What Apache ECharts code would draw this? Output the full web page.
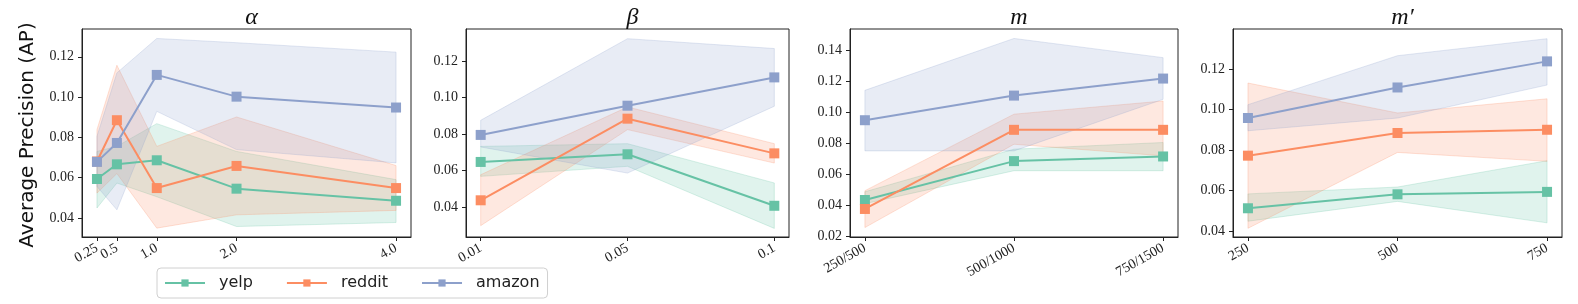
<!DOCTYPE html>
<html><head><meta charset="utf-8">
<script src="https://cdn.jsdelivr.net/npm/echarts@6/dist/echarts.min.js"></script>
<style>html,body{margin:0;padding:0;background:#fff}#c{width:1578px;height:304px}</style>
</head><body><div id="c"></div>
<script>
const seriesNames = ['yelp', 'reddit', 'amazon'];
const panelTitles = ['\u03b1', '\u03b2', 'm', 'm\u2032'];

// Panel alpha (numeric x)
const alphaX = [0.25, 0.5, 1.0, 2.0, 4.0];
const alphaLabels = ['0.25', '0.5', '1.0', '2.0', '4.0'];
const alphaYelp = [0.0593, 0.0666, 0.0686, 0.0545, 0.0485];
const alphaYelpLo = [0.0449, 0.0573, 0.0505, 0.0357, 0.0377];
const alphaYelpHi = [0.0730, 0.0755, 0.0868, 0.0730, 0.0590];
const alphaReddit = [0.0680, 0.0885, 0.0548, 0.0658, 0.0548];
const alphaRedditLo = [0.0523, 0.0620, 0.0349, 0.0415, 0.0437];
const alphaRedditHi = [0.0838, 0.1158, 0.0755, 0.0901, 0.0660];
const alphaAmazon = [0.0678, 0.0772, 0.1110, 0.1002, 0.0948];
const alphaAmazonLo = [0.0556, 0.0440, 0.0929, 0.0739, 0.0673];
const alphaAmazonHi = [0.0805, 0.1120, 0.1291, 0.1270, 0.1223];

// Panel beta
const betaLabels = ['0.01', '0.05', '0.1'];
const betaYelp = [0.0647, 0.0689, 0.0407];
const betaYelpLo = [0.0568, 0.0623, 0.0283];
const betaYelpHi = [0.0732, 0.0747, 0.0532];
const betaReddit = [0.0437, 0.0884, 0.0694];
const betaRedditLo = [0.0298, 0.0824, 0.0641];
const betaRedditHi = [0.0577, 0.0948, 0.0747];
const betaAmazon = [0.0795, 0.0955, 0.1110];
const betaAmazonLo = [0.0729, 0.0586, 0.0952];
const betaAmazonHi = [0.0875, 0.1322, 0.1268];

// Panel m
const mLabels = ['250/500', '500/1000', '750/1500'];
const mYelp = [0.0434, 0.0685, 0.0715];
const mYelpLo = [0.0410, 0.0623, 0.0623];
const mYelpHi = [0.0487, 0.0762, 0.0805];
const mReddit = [0.0376, 0.0887, 0.0887];
const mRedditLo = [0.0256, 0.0794, 0.0719];
const mRedditHi = [0.0494, 0.0988, 0.1073];
const mAmazon = [0.0949, 0.1108, 0.1218];
const mAmazonLo = [0.0751, 0.0751, 0.1084];
const mAmazonHi = [0.1142, 0.1477, 0.1353];

// Panel m'
const mpLabels = ['250', '500', '750'];
const mpYelp = [0.0512, 0.0581, 0.0593];
const mpYelpLo = [0.0448, 0.0546, 0.0440];
const mpYelpHi = [0.0583, 0.0617, 0.0747];
const mpReddit = [0.0772, 0.0884, 0.0900];
const mpRedditLo = [0.0413, 0.0788, 0.0744];
const mpRedditHi = [0.1131, 0.0983, 0.1053];
const mpAmazon = [0.0958, 0.1109, 0.1238];
const mpAmazonLo = [0.0895, 0.0958, 0.1121];
const mpAmazonHi = [0.1024, 0.1266, 0.1350];

// y ticks per panel
const yTicksA = [0.04, 0.06, 0.08, 0.10, 0.12];
const yTicksB = [0.04, 0.06, 0.08, 0.10, 0.12];
const yTicksM = [0.02, 0.04, 0.06, 0.08, 0.10, 0.12, 0.14];
const yTicksMp = [0.04, 0.06, 0.08, 0.10, 0.12];

// ---------- build ----------
const colors = ['#66c2a5', '#fc8d62', '#8da0cb'];
const rgba = (hex, a) => {
  const n = parseInt(hex.slice(1), 16);
  return `rgba(${(n >> 16) & 255},${(n >> 8) & 255},${n & 255},${a})`;
};
const idx3 = [0, 1, 2];
const panels = [
  { x: alphaX, labels: alphaLabels, xmin: 0.0625, xmax: 4.1875, ymin: 0.0305, ymax: 0.1338, yticks: yTicksA,
    mean: [alphaYelp, alphaReddit, alphaAmazon], lo: [alphaYelpLo, alphaRedditLo, alphaAmazonLo], hi: [alphaYelpHi, alphaRedditHi, alphaAmazonHi] },
  { x: idx3, labels: betaLabels, xmin: -0.1, xmax: 2.1, ymin: 0.0236, ymax: 0.1375, yticks: yTicksB,
    mean: [betaYelp, betaReddit, betaAmazon], lo: [betaYelpLo, betaRedditLo, betaAmazonLo], hi: [betaYelpHi, betaRedditHi, betaAmazonHi] },
  { x: idx3, labels: mLabels, xmin: -0.1, xmax: 2.1, ymin: 0.0195, ymax: 0.1538, yticks: yTicksM,
    mean: [mYelp, mReddit, mAmazon], lo: [mYelpLo, mRedditLo, mAmazonLo], hi: [mYelpHi, mRedditHi, mAmazonHi] },
  { x: idx3, labels: mpLabels, xmin: -0.1, xmax: 2.1, ymin: 0.037, ymax: 0.1398, yticks: yTicksMp,
    mean: [mpYelp, mpReddit, mpAmazon], lo: [mpYelpLo, mpRedditLo, mpAmazonLo], hi: [mpYelpHi, mpRedditHi, mpAmazonHi] }
];
const gridPos = [
  { left: 82, width: 329 },
  { left: 466, width: 323 },
  { left: 850, width: 328 },
  { left: 1233, width: 329 }
];
const TOP = 29, H = 208;
const axisColor = '#222';
const tickFont = { fontFamily: 'Liberation Serif', fontSize: 14, color: '#222' };

const grid = [], xAxis = [], yAxis = [], series = [], title = [], extraX = [];
panels.forEach((p, k) => {
  grid.push({ left: gridPos[k].left, width: gridPos[k].width, top: TOP, height: H,
    show: true, borderColor: axisColor, borderWidth: 1, backgroundColor: 'transparent' });
  const labelMap = {};
  p.x.forEach((v, i) => { labelMap[String(v)] = p.labels[i]; });
  const fmt = v => labelMap[String(v)] !== undefined ? labelMap[String(v)] : '';
  const labelBase = { show: true, rotate: 30, margin: 10, ...tickFont,
    hideOverlap: false, interval: 0, showMinLabel: true, showMaxLabel: true, formatter: fmt };
  // main x axis: line + ticks, labels for all but the first tick
  xAxis.push({ type: 'value', gridIndex: k, min: p.xmin, max: p.xmax, position: 'bottom',
    splitLine: { show: false },
    axisLine: { show: true, onZero: false, lineStyle: { color: axisColor, width: 1 } },
    axisTick: { show: true, length: 4, lineStyle: { color: axisColor }, customValues: p.x },
    axisLabel: { ...labelBase, customValues: p.x.slice(1) } });
  // helper x axis: only the first tick label (avoids min-label overlap hiding)
  extraX.push({ type: 'value', gridIndex: k, min: p.xmin, max: p.xmax, position: 'bottom', offset: 0,
    splitLine: { show: false }, axisLine: { show: false }, axisTick: { show: false },
    axisLabel: { ...labelBase, customValues: [p.x[0]] } });
  yAxis.push({ type: 'value', gridIndex: k, min: p.ymin, max: p.ymax,
    splitLine: { show: false },
    axisLine: { show: true, onZero: false, lineStyle: { color: axisColor, width: 1 } },
    axisTick: { show: true, length: 4, lineStyle: { color: axisColor }, customValues: p.yticks },
    axisLabel: { show: true, margin: 8, customValues: p.yticks, ...tickFont, hideOverlap: false,
      showMinLabel: true, showMaxLabel: true, formatter: v => v.toFixed(2) } });
  title.push({ text: panelTitles[k], left: gridPos[k].left + gridPos[k].width / 2, top: 1, textAlign: 'center',
    textStyle: { fontFamily: 'Liberation Serif', fontStyle: 'italic', fontWeight: 'normal', fontSize: 24, color: '#111' } });

  [0, 1, 2].forEach(s => {
    const xs = p.x, lo = p.lo[s], hi = p.hi[s], c = colors[s];
    series.push({
      type: 'custom', name: 'band-' + k + '-' + s, xAxisIndex: k, yAxisIndex: k, silent: true, z: 1,
      data: [[xs[0], lo[0]]],
      renderItem: (params, api) => {
        const pts = [];
        for (let i = 0; i < xs.length; i++) pts.push(api.coord([xs[i], hi[i]]));
        for (let i = xs.length - 1; i >= 0; i--) pts.push(api.coord([xs[i], lo[i]]));
        return { type: 'polygon', shape: { points: pts },
          style: { fill: rgba(c, 0.2), stroke: rgba(c, 0.25), lineWidth: 1 } };
      }
    });
  });
  [0, 1, 2].forEach(s => {
    series.push({
      type: 'line', name: seriesNames[s], xAxisIndex: k, yAxisIndex: k, z: 3,
      data: p.x.map((x, i) => [x, p.mean[s][i]]),
      symbol: 'rect', symbolSize: 10, showSymbol: true,
      itemStyle: { color: colors[s] }, lineStyle: { color: colors[s], width: 2 }
    });
  });
});
xAxis.push(...extraX);

const chart = echarts.init(document.getElementById('c'), null, { renderer: 'canvas' });
chart.setOption({
  animation: false,
  backgroundColor: '#fff',
  title, grid, xAxis, yAxis, series,
  legend: {
    data: seriesNames, left: 157, top: 268, orient: 'horizontal',
    itemWidth: 40, itemHeight: 9, itemGap: 33,
    padding: [7, 8, 7, 7],
    borderColor: '#d0d0d0', borderWidth: 1, borderRadius: 4, backgroundColor: '#fff',
    textStyle: { fontFamily: 'DejaVu Sans', fontSize: 16, color: '#222', padding: [0, 0, 0, 9] }
  },
  graphic: [{
    type: 'text', x: 28, y: 135, rotation: Math.PI / 2,
    style: { text: 'Average Precision (AP)', fontFamily: 'DejaVu Sans', fontSize: 20, fill: '#111',
      textAlign: 'center', textVerticalAlign: 'middle' }
  }]
});
</script>
</body></html>
